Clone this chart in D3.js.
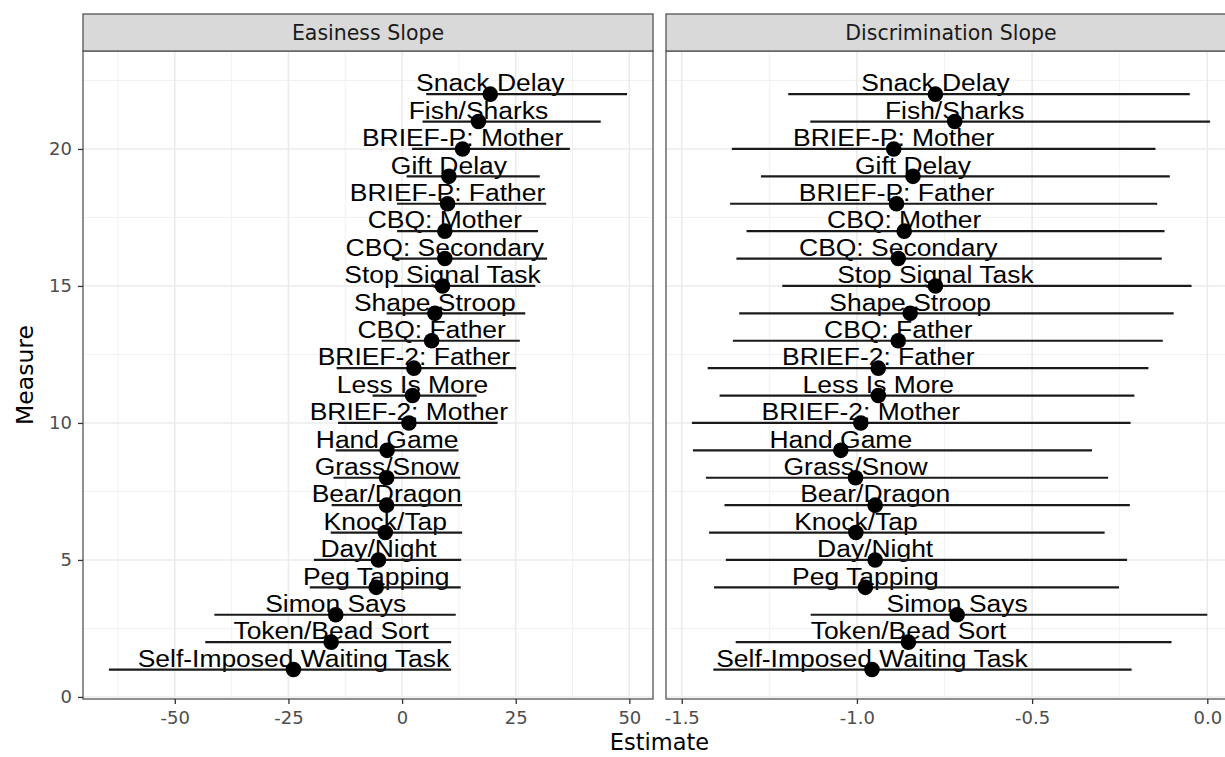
<!DOCTYPE html>
<html>
<head>
<meta charset="utf-8">
<script src="https://cdn.jsdelivr.net/npm/d3@7"></script>
<style>
  body { margin: 0; background: #fff; }
  .tick-label { font-family: "DejaVu Sans", sans-serif; fill: #4d4d4d; }
  .measure-label { font-family: "Liberation Sans", Arial, sans-serif; fill: #000; }
</style>
</head>
<body>
<div class="chart"></div>
<script>
// measures from bottom (1) to top (22)
const measures = [
  "Self-Imposed Waiting Task", "Token/Bead Sort", "Simon Says", "Peg Tapping",
  "Day/Night", "Knock/Tap", "Bear/Dragon", "Grass/Snow", "Hand Game",
  "BRIEF-2: Mother", "Less Is More", "BRIEF-2: Father", "CBQ: Father",
  "Shape Stroop", "Stop Signal Task", "CBQ: Secondary", "CBQ: Mother",
  "BRIEF-P: Father", "Gift Delay", "BRIEF-P: Mother", "Fish/Sharks", "Snack Delay"
];

const easinessEst = [-23.9, -15.6, -14.6, -5.7, -5.2, -3.7, -3.4, -3.4, -3.3, 1.5, 2.3,
  2.6, 6.5, 7.2, 8.9, 9.4, 9.4, 10.0, 10.3, 13.3, 16.8, 19.4];
const easinessLo = [-64.5, -43.3, -41.3, -20.3, -19.4, -15.7, -15.5, -15.1, -14.6, -14.1, -6.5,
  -14.4, -4.5, -3.4, -1.8, -2.2, -1.1, -1.1, 1.0, 2.2, 4.5, 5.3];
const easinessHi = [10.8, 10.8, 11.8, 12.9, 13.0, 13.2, 13.2, 12.8, 12.4, 21.0, 16.4,
  25.1, 25.9, 27.1, 29.3, 31.9, 29.9, 31.7, 30.3, 36.9, 43.7, 49.5];

const discrimEst = [-0.957, -0.853, -0.714, -0.976, -0.948, -1.003, -0.948, -1.004, -1.046, -0.989, -0.939,
  -0.939, -0.882, -0.848, -0.776, -0.882, -0.865, -0.887, -0.840, -0.895, -0.721, -0.776];
const discrimLo = [-1.410, -1.346, -1.132, -1.408, -1.374, -1.422, -1.378, -1.431, -1.468, -1.471, -1.392,
  -1.426, -1.354, -1.336, -1.213, -1.344, -1.315, -1.362, -1.274, -1.357, -1.133, -1.196];
const discrimHi = [-0.216, -0.102, 0.000, -0.252, -0.229, -0.293, -0.221, -0.283, -0.329, -0.219, -0.208,
  -0.168, -0.127, -0.096, -0.045, -0.130, -0.122, -0.143, -0.107, -0.148, 0.008, -0.050];

const panelTitles = ["Easiness Slope", "Discrimination Slope"];
const xTicks = [[-50, -25, 0, 25, 50], [-1.5, -1.0, -0.5, 0.0]];
const yTicks = [0, 5, 10, 15, 20];

let width = 1225,
  height = 757;

let svg = d3
  .select(".chart")
  .append("svg")
  .attr("width", width)
  .attr("height", height);

let stripTop = 14,
  panelTop = 51,
  panelBottom = 699,
  panelWidth = 570,
  panelLefts = [83, 666];

function rows(est, lo, hi) {
  return measures.map((m, i) => ({ name: m, y: i + 1, est: est[i], lo: lo[i], hi: hi[i] }));
}
const panels = [
  rows(easinessEst, easinessLo, easinessHi),
  rows(discrimEst, discrimLo, discrimHi)
];

// AXIS (shared y, ggplot style 5% expansion, labels sit at y + 0.5)
let yLo = 1,
  yHi = measures.length + 0.5;
let yPad = (yHi - yLo) * 0.05;
let y = d3.scaleLinear().domain([yLo - yPad, yHi + yPad]).range([panelBottom, panelTop]);

panels.forEach((data, p) => {
  let left = panelLefts[p];
  let lo = d3.min(data, (d) => d.lo),
    hi = d3.max(data, (d) => d.hi);
  let pad = (hi - lo) * 0.05;
  let x = d3.scaleLinear().domain([lo - pad, hi + pad]).range([left, left + panelWidth]);

  let g = svg.append("g");

  // grid: minor then major
  let major = xTicks[p];
  let step = major[1] - major[0];
  let minorX = [];
  for (let i = -1; i < major.length; i++) minorX.push(major[0] + step * (i + 0.5));
  minorX = minorX.filter((v) => v > x.domain()[0] && v < x.domain()[1]);
  let minorY = yTicks.map((v) => v + 2.5);

  g.selectAll(".minor-x")
    .data(minorX)
    .enter()
    .append("line")
    .attr("x1", (d) => x(d)).attr("x2", (d) => x(d))
    .attr("y1", panelTop).attr("y2", panelBottom)
    .attr("stroke", "#f2f2f2").attr("stroke-width", 1);
  g.selectAll(".minor-y")
    .data(minorY)
    .enter()
    .append("line")
    .attr("x1", left).attr("x2", left + panelWidth)
    .attr("y1", (d) => y(d)).attr("y2", (d) => y(d))
    .attr("stroke", "#f2f2f2").attr("stroke-width", 1);
  g.selectAll(".major-x")
    .data(major)
    .enter()
    .append("line")
    .attr("x1", (d) => x(d)).attr("x2", (d) => x(d))
    .attr("y1", panelTop).attr("y2", panelBottom)
    .attr("stroke", "#ebebeb").attr("stroke-width", 1.6);
  g.selectAll(".major-y")
    .data(yTicks)
    .enter()
    .append("line")
    .attr("x1", left).attr("x2", left + panelWidth)
    .attr("y1", (d) => y(d)).attr("y2", (d) => y(d))
    .attr("stroke", "#ebebeb").attr("stroke-width", 1.6);

  // ---- DRAW MARKS ----
  g.selectAll(".label")
    .data(data)
    .enter()
    .append("text")
    .attr("class", "measure-label")
    .attr("transform", (d) => "translate(" + x(d.est) + "," + y(d.y + 0.5) + ") scale(1.08,1)")
    .attr("dy", "0.45em")
    .attr("text-anchor", "middle")
    .attr("font-size", 24.5)
    .text((d) => d.name);

  g.selectAll(".range")
    .data(data)
    .enter()
    .append("line")
    .attr("x1", (d) => x(d.lo)).attr("x2", (d) => x(d.hi))
    .attr("y1", (d) => y(d.y)).attr("y2", (d) => y(d.y))
    .attr("stroke", "#1a1a1a").attr("stroke-width", 2.2);

  g.selectAll(".dot")
    .data(data)
    .enter()
    .append("circle")
    .attr("cx", (d) => x(d.est))
    .attr("cy", (d) => y(d.y))
    .attr("r", 7.8)
    .attr("fill", "#000");

  // panel border
  g.append("rect")
    .attr("x", left).attr("y", panelTop)
    .attr("width", panelWidth).attr("height", panelBottom - panelTop)
    .attr("fill", "none").attr("stroke", "#555").attr("stroke-width", 1.3);

  // strip
  g.append("rect")
    .attr("x", left).attr("y", stripTop)
    .attr("width", panelWidth).attr("height", panelTop - stripTop)
    .attr("fill", "#d9d9d9").attr("stroke", "#555").attr("stroke-width", 1.3);
  g.append("text")
    .attr("x", left + panelWidth / 2)
    .attr("y", (stripTop + panelTop) / 2)
    .attr("dy", "0.36em")
    .attr("text-anchor", "middle")
    .attr("font-family", "DejaVu Sans")
    .attr("font-size", 20.5)
    .attr("fill", "#1a1a1a")
    .text(panelTitles[p]);

  // x axis
  let xAxis = d3.axisBottom(x).tickValues(major).tickSize(5).tickPadding(7)
    .tickFormat(p === 0 ? d3.format("d") : d3.format(".1f"));
  let xAxisGroup = svg.append("g")
    .attr("transform", "translate(0," + panelBottom + ")")
    .call(xAxis);
  xAxisGroup.select(".domain").remove();
  xAxisGroup.selectAll(".tick line").attr("stroke", "#333").attr("stroke-width", 1.3);
  xAxisGroup.selectAll(".tick text")
    .attr("class", "tick-label")
    .attr("font-size", 18)
    .text(function () { return d3.select(this).text().replace("\u2212", "-"); });

  // y axis only on first panel
  if (p === 0) {
    let yAxis = d3.axisLeft(y).tickValues(yTicks).tickSize(5).tickPadding(6);
    let yAxisGroup = svg.append("g")
      .attr("transform", "translate(" + left + ",0)")
      .call(yAxis);
    yAxisGroup.select(".domain").remove();
    yAxisGroup.selectAll(".tick line").attr("stroke", "#333").attr("stroke-width", 1.3);
    yAxisGroup.selectAll(".tick text").attr("class", "tick-label").attr("font-size", 18);
  }
});

// axis titles
svg.append("text")
  .attr("x", (panelLefts[0] + panelLefts[1] + panelWidth) / 2)
  .attr("y", 750)
  .attr("text-anchor", "middle")
  .attr("font-family", "DejaVu Sans")
  .attr("font-size", 22.5)
  .attr("fill", "#000")
  .text("Estimate");

svg.append("text")
  .attr("transform", "translate(33," + (panelTop + panelBottom) / 2 + ") rotate(-90)")
  .attr("text-anchor", "middle")
  .attr("font-family", "DejaVu Sans")
  .attr("font-size", 23.5)
  .attr("fill", "#000")
  .text("Measure");
</script>
</body>
</html>
